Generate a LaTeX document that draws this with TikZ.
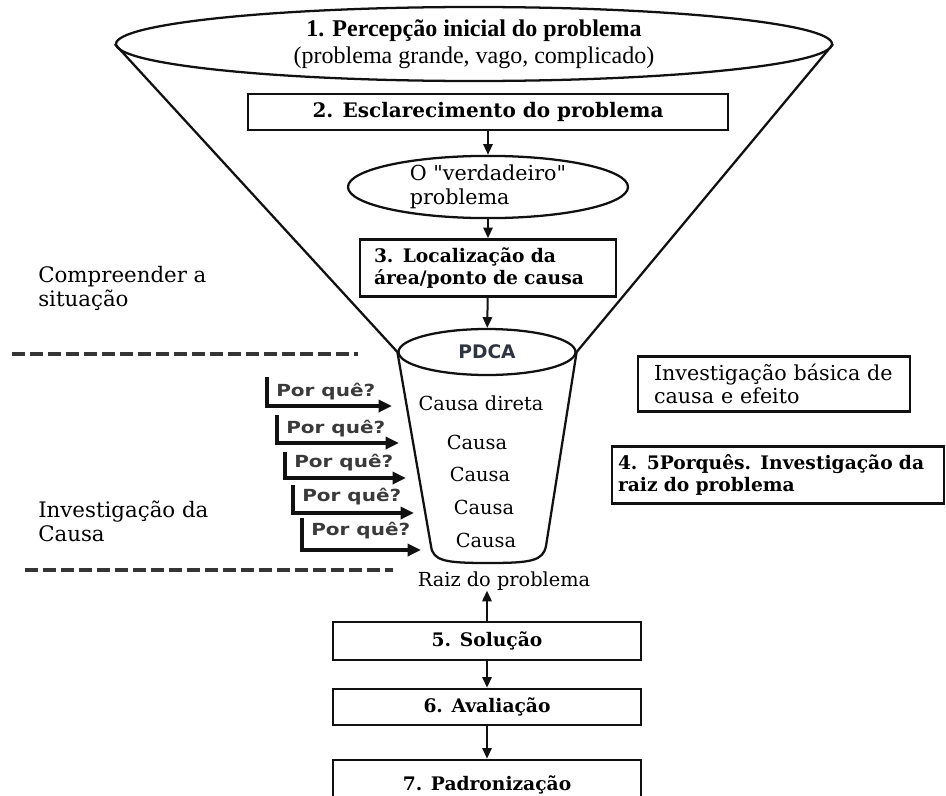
\documentclass[tikz,border=0pt]{standalone}
\usepackage{fontspec}
\setmainfont{DejaVu Serif}
\newfontfamily\timesfam{Liberation Serif}
\newfontfamily\quotefam[Ligatures=TeXOff]{DejaVu Serif}
\newfontfamily\pqfam[FakeStretch=1.2]{DejaVu Sans}
\newfontfamily\sansfam{DejaVu Sans}
\usetikzlibrary{shapes.geometric,arrows.meta}
\newcommand\pxu{0.75pt}
\definecolor{ink}{HTML}{111111}
\definecolor{pqgray}{HTML}{3A3A3A}
\definecolor{pdcagray}{HTML}{2E3440}
\begin{document}
\begin{tikzpicture}[x=0.75pt,y=-0.75pt,
  stepbox/.style={draw=ink, line width=2pt, inner sep=0pt, font=\bfseries\fontsize{14}{17}\selectfont},
  oval/.style={ellipse, draw=ink, line width=1.7pt, inner sep=0pt},
  plain/.style={font=\fontsize{15.5}{17.5}\selectfont, align=left, inner sep=0pt},
  side/.style={font=\fontsize{16}{18}\selectfont, align=left, inner sep=0pt, anchor=west},
  causa/.style={font=\fontsize{14.5}{17}\selectfont, inner sep=0pt},
  pq/.style={font=\pqfam\bfseries\fontsize{12.5}{14}\selectfont, text=pqgray, inner sep=0pt, anchor=west},
  flow/.style={draw=ink, line width=1.5pt, -{Triangle[length=8pt,width=7pt]}},
  why/.style={draw=ink, line width=2.8pt, line join=miter, -{Triangle[length=10pt,width=9pt]}},
  funnel/.style={draw=ink, line width=1.7pt},
  divider/.style={draw=ink!85, line width=2.3pt, dash pattern=on 9.5pt off 4pt}
]
\path[use as bounding box] (0,0) rectangle (946,796);
\fill[white] (0,0) rectangle (946,796);
\clip (0,0) rectangle (946,796);

% top ellipse
\node[oval, minimum width=716*\pxu, minimum height=74*\pxu, align=center,
      font=\timesfam\fontsize{18}{20}\selectfont] (e1) at (474,44)
  {\textbf{1. Percepção inicial do problema}\\(problema grande, vago, complicado)};

% chain
\node[stepbox, minimum width=480*\pxu, minimum height=36*\pxu,
      font=\bfseries\fontsize{15}{17}\selectfont] (b2) at (488,112) {2. Esclarecimento do problema};
\node[oval, minimum width=280*\pxu, minimum height=54*\pxu, align=left,
      font=\quotefam\fontsize{15.5}{18}\selectfont] (ev) at (488,187) {O "verdadeiro"\\problema};
\node[stepbox, minimum width=256*\pxu, minimum height=57*\pxu, text width=228*\pxu, align=left] (b3) at (488,268)
  {3. Localização da\\área/ponto de causa};
\node[oval, minimum width=177*\pxu, minimum height=46*\pxu,
      font=\sansfam\bfseries\fontsize{14}{16}\selectfont, text=pdcagray] (pdca) at (487,352) {PDCA};

\draw[flow] (b2) -- (ev);
\draw[flow] (ev) -- (b3);
\draw[flow] (b3) -- (pdca);

% funnel
\draw[funnel] (e1.west) -- (pdca.west);
\draw[funnel] (e1.east) -- (pdca.east);
\coordinate (cupbl) at (431,546);
\coordinate (cupbot) at (488,563);
\coordinate (cupbr) at (546,546);
\draw[funnel] (pdca.west) -- (cupbl) .. controls (433,561) and (445,563) .. (cupbot)
  .. controls (531,563) and (543,561) .. (cupbr) -- (pdca.east);

% causes in the cup
\node[causa] (c0) at (481,403) {Causa direta};
\node[causa] (c1) at (477,442) {Causa};
\node[causa] (c2) at (480,474) {Causa};
\node[causa] (c3) at (484,507) {Causa};
\node[causa] (c4) at (486,540) {Causa};
\node[causa] (raiz) at (504,581) {Raiz do problema};

% why arrows
\foreach \i/\bx/\ty/\hy/\tx/\ly in {1/267/377/406/392/392, 2/277/415/443/399/429, 3/285/452/478/406/463, 4/293/485/513/414/497, 5/302/518/550/421/531}{
  \coordinate (pqT\i) at (\bx,\ty);
  \coordinate (pqC\i) at (\bx,\hy);
  \coordinate (pqE\i) at (\tx,\hy);
  \draw[why] (pqT\i) -- (pqC\i) -- (pqE\i);
  \node[pq] (pq\i) at (\bx+9,\ly) {Por quê?};
}

% dividers
\coordinate (d1a) at (12,354);
\coordinate (d1b) at (358,354);
\coordinate (d2a) at (25,570);
\coordinate (d2b) at (393,570);
\draw[divider] (d1a) -- (d1b);
\draw[divider] (d2a) -- (d2b);

% side labels
\node[side] (lab1) at (38,288) {Compreender a\\situação};
\node[side] (lab2) at (38,521) {Investigação da\\Causa};

% right boxes
\node[draw=ink, line width=2pt, minimum width=272*\pxu, minimum height=55*\pxu, text width=240*\pxu,
      plain] (bas) at (774,384) {Investigação básica de\\causa e efeito};
\node[stepbox, minimum width=332*\pxu, minimum height=57*\pxu, text width=320*\pxu, align=left] (b4) at (778,475)
  {\mbox{4. 5Porquês. Investigação da}\\raiz do problema};

% bottom chain
\node[stepbox, minimum width=308*\pxu, minimum height=38*\pxu] (b5) at (487,641) {5. Solução};
\node[stepbox, minimum width=308*\pxu, minimum height=36*\pxu] (b6) at (487,707) {6. Avaliação};
\node[stepbox, minimum width=308*\pxu, minimum height=50*\pxu] (b7) at (487,785) {7. Padronização};

\draw[flow] (b5.north) -- (b5.north |- raiz.south);
\draw[flow] (b5) -- (b6);
\draw[flow] (b6) -- (b7);
\end{tikzpicture}
\end{document}
